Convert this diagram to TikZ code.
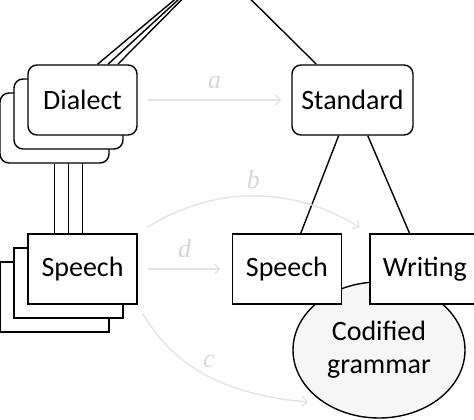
\documentclass[tikz,border=0pt]{standalone}
\usepackage{fontspec}
\setmainfont{Carlito}
\newfontfamily\relfont{Liberation Serif}
\usetikzlibrary{positioning,shapes.geometric,arrows.meta,backgrounds}
\definecolor{faint}{HTML}{E3E3E3}
\definecolor{faintlabel}{HTML}{D6D6D6}
\definecolor{codefill}{HTML}{F6F6F6}

\tikzset{
  unit/.style={draw=black,line width=1.4pt,fill=white,minimum width=109pt,minimum height=70pt,inner sep=0pt,font=\fontsize{28}{33}\selectfont},
  dialbox/.style={unit,rounded corners=9pt},
  modebox/.style={unit},
  gramblob/.style={unit,ellipse,fill=codefill,minimum width=172pt,minimum height=136pt,align=center},
  link/.style={line width=1.4pt},
  relation/.style={draw=faint,line width=1.4pt,-{Straight Barb[length=5pt,width=10pt]},shorten <=10pt,shorten >=10pt},
  rellabel/.style={text=faintlabel,inner sep=0pt,font=\relfont\itshape\fontsize{26}{28}\selectfont}
}

\begin{document}
\begin{tikzpicture}[x=1pt,y=1pt]
\useasboundingbox (0,0) rectangle (474,-420);

\foreach \k/\s in {3/28,2/14} {
  \node[dialbox] (dia\k) at (82.5-\s,-100-\s) {};
  \node[modebox] (sp\k) at (82.5-\s,-269-\s) {};
}
\node[dialbox] (dia1) at (82.5,-100) {Dialect};
\node[modebox] (sp1) at (82.5,-269) {Speech};

\node[dialbox,minimum width=121pt] (std) at (352.5,-100) {Standard};
\node[gramblob] (gram) at (379,-350) {Codified\\grammar};
\node[modebox,right=94pt of sp1] (sps) {Speech};
\node[modebox,minimum width=110pt,right=27pt of sps] (wri) {Writing};

\coordinate (root) at (216,35);
\coordinate (ctip) at ([xshift=-71pt,yshift=-52pt]gram.center);

\begin{scope}[on background layer]
  \draw[link] (dia1) -- (root);
  \draw[link] ([xshift=15pt]dia1.north) -- (root);
  \draw[link] ([xshift=25.5pt]dia1.north) -- (root);
  \draw[link] (std) -- (root);
  \draw[link] (std) -- (sps);
  \draw[link] (std) -- (wri);
  \foreach \k in {1,2,3}
    \draw[link] (dia\k.south) -- (sp\k.north);
\end{scope}

\draw[relation] (dia1) -- node[rellabel,above=11pt] {a} (std);
\draw[relation,shorten >=11pt] (sp1) -- node[rellabel,above=11pt] {d} (sps);
\draw[relation,shorten <=11pt,shorten >=11pt] (sp1.north east) to[bend left=32] node[rellabel,above=8pt] {b} (wri.north west);
\draw[relation,shorten >=0pt] (sp1.south east) to[out=-60,in=175] node[rellabel,pos=0.45,above right=3pt] {c} (ctip);

\end{tikzpicture}
\end{document}
